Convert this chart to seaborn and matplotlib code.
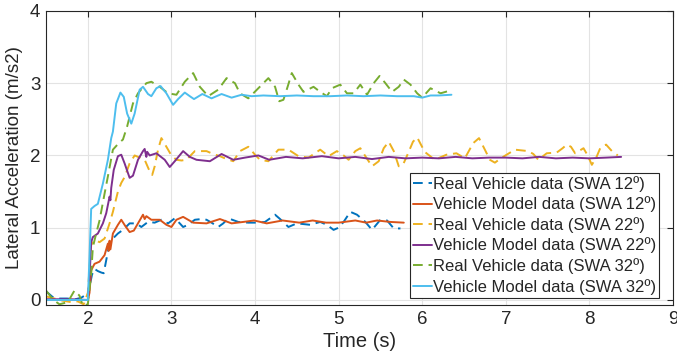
import numpy as np
import matplotlib
matplotlib.use("Agg")
import matplotlib.pyplot as plt
import seaborn as sns
import pandas as pd

# values (time in s, lateral acceleration in m/s2)
t_real12 = [1.5, 1.53, 1.58, 1.65, 1.75, 1.85, 1.92, 1.96, 2.0, 2.02,
            2.05, 2.08, 2.12, 2.16, 2.19, 2.22, 2.25, 2.3, 2.36, 2.42,
            2.5, 2.58, 2.64, 2.72, 2.8, 2.88, 2.96, 3.04, 3.1, 3.14,
            3.2, 3.28, 3.36, 3.42, 3.48, 3.56, 3.62, 3.68, 3.8, 3.92,
            4.02, 4.12, 4.18, 4.24, 4.3, 4.4, 4.5, 4.58, 4.66, 4.78,
            4.86, 4.94, 5.0, 5.06, 5.14, 5.22, 5.32, 5.4, 5.5, 5.58,
            5.66, 5.74]
a_real12 = [0.12, 0.09, 0.04, 0.02, 0.02, 0.01, 0.03, 0.06, 0.02, 0.18,
            0.35, 0.43, 0.4, 0.38, 0.37, 0.55, 0.73, 0.85, 0.92, 0.97,
            1.06, 1.06, 1.01, 1.08, 1.07, 1.11, 1.06, 1.13, 1.06, 1.01,
            1.04, 1.11, 1.12, 1.11, 1.07, 1.01, 1.06, 1.13, 1.08, 1.07,
            1.07, 1.08, 1.13, 1.18, 1.12, 1.01, 1.06, 1.05, 1.04, 1.08,
            1.04, 0.97, 1.0, 1.08, 1.22, 1.18, 1.08, 0.97, 1.11, 1.1,
            0.99, 0.99]

t_model12 = [1.5, 1.7, 1.9, 2.0, 2.02, 2.04, 2.08, 2.14, 2.2, 2.24,
             2.25, 2.26, 2.27, 2.3, 2.36, 2.4, 2.45, 2.5, 2.55, 2.6,
             2.66, 2.68, 2.7, 2.76, 2.86, 2.94, 3.0, 3.06, 3.14, 3.26,
             3.42, 3.58, 3.72, 3.86, 3.99, 4.14, 4.33, 4.53, 4.69, 4.85,
             5.0, 5.2, 5.33, 5.46, 5.62, 5.78]
a_model12 = [0.0, 0.0, 0.0, 0.0, 0.1, 0.41, 0.5, 0.53, 0.62, 0.78,
             0.68, 0.82, 0.7, 0.92, 1.04, 1.11, 1.02, 0.94, 0.96, 1.06,
             1.18, 1.12, 1.16, 1.11, 1.11, 1.04, 1.01, 1.11, 1.15, 1.07,
             1.06, 1.12, 1.06, 1.08, 1.1, 1.06, 1.1, 1.07, 1.1, 1.07,
             1.07, 1.1, 1.07, 1.1, 1.08, 1.07]

t_real22 = [1.5, 1.6, 1.7, 1.8, 1.88, 1.95, 2.0, 2.04, 2.08, 2.14,
            2.2, 2.26, 2.3, 2.36, 2.4, 2.44, 2.5, 2.56, 2.6, 2.68,
            2.74, 2.77, 2.8, 2.84, 2.88, 2.94, 3.0, 3.06, 3.12, 3.18,
            3.28, 3.42, 3.5, 3.58, 3.66, 3.74, 3.82, 3.92, 4.0, 4.06,
            4.16, 4.28, 4.4, 4.52, 4.64, 4.78, 4.88, 4.98, 5.06, 5.12,
            5.2, 5.26, 5.32, 5.4, 5.48, 5.54, 5.6, 5.66, 5.72, 5.77,
            5.82, 5.89, 5.94, 6.03, 6.15, 6.29, 6.41, 6.51, 6.61, 6.68,
            6.75, 6.81, 6.87, 6.94, 7.01, 7.11, 7.19, 7.27, 7.33, 7.39,
            7.49, 7.61, 7.68, 7.73, 7.78, 7.83, 7.93, 7.98, 8.03, 8.09,
            8.13, 8.2, 8.27, 8.34]
a_real22 = [0.05, 0.02, -0.01, -0.03, -0.02, -0.06, 0.1, 0.76, 0.83, 0.8,
            0.85, 1.06, 1.22, 1.5, 1.62, 1.7, 1.89, 2.0, 1.98, 1.94,
            1.78, 1.73, 1.85, 2.08, 2.24, 2.12, 2.0, 1.94, 1.93, 1.94,
            2.06, 2.06, 2.02, 1.99, 1.95, 1.92, 2.06, 2.12, 2.01, 1.94,
            1.92, 2.08, 2.08, 1.99, 1.97, 2.08, 1.99, 2.06, 2.0, 1.94,
            2.06, 2.1, 1.99, 1.85, 1.92, 2.1, 2.19, 2.06, 1.85, 1.87,
            2.0, 2.19, 2.25, 2.05, 1.94, 2.01, 2.03, 1.96, 2.17, 2.24,
            2.08, 1.94, 1.9, 1.96, 2.01, 2.08, 2.07, 2.06, 2.02, 1.94,
            2.03, 2.04, 2.1, 2.15, 2.12, 2.03, 2.1, 2.0, 1.87, 1.99,
            2.1, 2.15, 2.06, 2.0]

t_model22 = [1.5, 1.8, 2.0, 2.02, 2.04, 2.06, 2.12, 2.18, 2.22, 2.26,
             2.27, 2.28, 2.31, 2.36, 2.4, 2.44, 2.5, 2.54, 2.6, 2.66,
             2.68, 2.7, 2.71, 2.74, 2.82, 2.92, 2.98, 3.04, 3.14, 3.22,
             3.3, 3.46, 3.6, 3.74, 3.88, 4.04, 4.17, 4.37, 4.57, 4.8,
             5.0, 5.2, 5.4, 5.6, 5.8, 6.0, 6.2, 6.4, 6.6, 6.8,
             7.0, 7.2, 7.4, 7.6, 7.8, 8.0, 8.2, 8.38]
a_model22 = [0.01, 0.01, 0.0, 0.3, 0.8, 0.87, 0.92, 1.06, 1.2, 1.43,
             1.38, 1.55, 1.8, 1.99, 2.01, 1.89, 1.69, 1.72, 1.94, 2.06,
             2.09, 1.98, 2.05, 2.0, 2.03, 1.94, 1.84, 1.92, 2.06, 1.98,
             1.94, 1.92, 2.02, 1.94, 1.97, 2.0, 1.94, 1.98, 1.96, 1.99,
             1.96, 1.98, 1.95, 1.98, 1.96, 1.97, 1.96, 1.98, 1.96, 1.97,
             1.97, 1.96, 1.98, 1.96, 1.97, 1.96, 1.97, 1.98]

t_real32 = [1.5, 1.58, 1.66, 1.76, 1.84, 1.9, 1.94, 2.0, 2.04, 2.06,
            2.1, 2.14, 2.2, 2.24, 2.3, 2.37, 2.42, 2.47, 2.54, 2.6,
            2.7, 2.76, 2.86, 2.96, 3.06, 3.16, 3.26, 3.34, 3.44, 3.56,
            3.66, 3.76, 3.82, 3.92, 4.04, 4.16, 4.24, 4.29, 4.34, 4.39,
            4.44, 4.52, 4.58, 4.7, 4.78, 4.86, 4.92, 5.02, 5.1, 5.18,
            5.26, 5.34, 5.42, 5.49, 5.56, 5.64, 5.72, 5.78, 5.86, 5.94,
            6.0, 6.1, 6.22, 6.34]
a_real32 = [0.13, 0.01, -0.06, -0.03, 0.13, 0.06, -0.08, -0.06, 0.36, 0.73,
            0.92, 1.1, 1.47, 1.71, 2.08, 2.17, 2.22, 2.4, 2.72, 2.86,
            3.0, 3.02, 2.95, 2.86, 2.84, 3.02, 3.14, 2.95, 2.82, 2.91,
            3.07, 3.0, 2.86, 2.79, 2.93, 3.07, 2.95, 2.75, 2.77, 2.95,
            3.14, 2.98, 2.88, 2.95, 2.88, 2.82, 2.93, 2.98, 2.86, 2.86,
            2.98, 2.84, 3.0, 3.1, 3.0, 2.88, 2.95, 3.05, 2.98, 2.86,
            2.8, 2.93, 2.86, 2.9]

t_model32 = [1.5, 1.8, 2.0, 2.02, 2.04, 2.08, 2.12, 2.18, 2.24, 2.28,
             2.3, 2.34, 2.39, 2.43, 2.47, 2.52, 2.56, 2.62, 2.66, 2.72,
             2.76, 2.82, 2.87, 2.94, 3.02, 3.08, 3.16, 3.22, 3.27, 3.37,
             3.48, 3.6, 3.72, 3.84, 3.96, 4.1, 4.3, 4.5, 4.7, 4.9,
             5.1, 5.3, 5.5, 5.7, 5.9, 6.0, 6.1, 6.2, 6.35]
a_model32 = [0.0, 0.0, 0.0, 0.6, 1.26, 1.3, 1.33, 1.61, 1.94, 2.24,
             2.33, 2.72, 2.87, 2.81, 2.58, 2.44, 2.58, 2.91, 2.95, 2.85,
             2.82, 2.93, 2.96, 2.86, 2.7, 2.78, 2.87, 2.82, 2.78, 2.85,
             2.79, 2.85, 2.8, 2.84, 2.82, 2.83, 2.82, 2.83, 2.82, 2.82,
             2.83, 2.82, 2.83, 2.82, 2.82, 2.8, 2.83, 2.83, 2.84]

labels = ["Real Vehicle data (SWA 12º)", "Vehicle Model data (SWA 12º)",
          "Real Vehicle data (SWA 22º)", "Vehicle Model data (SWA 22º)",
          "Real Vehicle data (SWA 32º)", "Vehicle Model data (SWA 32º)"]
colors = ["#0072BD", "#D95319", "#EDB120", "#7E2F8E", "#77AC30", "#4DBEEE"]

series = [(t_real12, a_real12), (t_model12, a_model12),
          (t_real22, a_real22), (t_model22, a_model22),
          (t_real32, a_real32), (t_model32, a_model32)]

sns.set_theme(style="whitegrid")
plt.rcParams['font.family'] = ['Liberation Sans', 'DejaVu Sans']

fig = plt.figure(figsize=(6.77, 3.64), dpi=100)
ax = fig.add_axes([0.068, 0.162, 0.926, 0.808])

for i, (t, a) in enumerate(series):
    df = pd.DataFrame({"t": t, "a": a})
    real = i % 2 == 0
    sns.lineplot(data=df, x="t", y="a", ax=ax, color=colors[i], label=labels[i],
                 estimator=None, sort=False, lw=1.4,
                 linestyle="--" if real else "-")
    if real:
        ax.lines[-1].set_dashes((5, 3))

ax.set_xlim(1.5, 9)
ax.set_ylim(-0.07, 4)
ax.set_xticks(range(2, 10))
ax.set_yticks(range(0, 5))
ax.set_xlabel("Time (s)", fontsize=14.5, color="#262626", labelpad=3)
ax.set_ylabel("Lateral Acceleration (m/s2)", fontsize=13.5, color="#262626", labelpad=5)
ax.tick_params(axis="both", labelsize=13.5, colors="#262626", direction="in",
               length=4, width=0.8, top=True, right=True, pad=4)
ax.grid(True, color="#e3e3e3", lw=0.8)
for sp in ax.spines.values():
    sp.set_color("#262626")
    sp.set_linewidth(0.8)

leg = ax.legend(loc="lower right", bbox_to_anchor=(0.978, 0.024), fontsize=12,
                frameon=True, fancybox=False, framealpha=1, edgecolor="#262626",
                handlelength=1.1, handletextpad=0.05, labelspacing=0.28,
                borderpad=0.2, borderaxespad=0)
leg.get_frame().set_linewidth(0.8)

plt.savefig("out.png", dpi=100)
